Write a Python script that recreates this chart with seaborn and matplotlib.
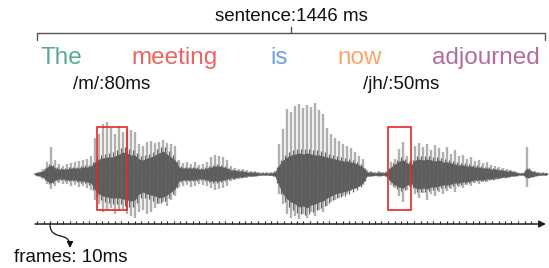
import numpy as np
import matplotlib
matplotlib.use("Agg")
import matplotlib.pyplot as plt
import matplotlib.patches as patches
from matplotlib.path import Path
import seaborn as sns

# === Data ===
sentence_ms = 1446
frame_ms = 10
words = ["The", "meeting", "is", "now", "adjourned"]
word_colors = ["#5aaa8f", "#ef6461", "#73a0e0", "#ffa468", "#b06d9e"]
word_starts_ms = [9, 270, 663, 854, 1124]          # left edge of each word label
phone_labels = ["/m/:80ms", "/jh/:50ms"]
phone_boxes_ms = [(171, 256), (999, 1064)]          # red boxes on the waveform
phone_label_ms = [102, 927]

# waveform envelope, one value per sample (amplitude in px from the centre line)
wave_start_ms = -5.7
wave_step_ms = 11.386
light_top = [1, 2, 5, 12, 27, 14, 10, 8, 10, 11, 12, 13, 14, 15, 18, 36, 40, 50, 52, 46,
             40, 48, 42, 45, 44, 42, 30, 28, 32, 33, 31, 32, 34, 31, 30, 28, 14, 11, 12, 10,
             12, 9, 10, 12, 17, 19, 18, 17, 14, 8, 6, 5, 5, 4, 3, 3, 2, 2, 2, 2,
             3, 30, 45, 65, 62, 68, 70, 66, 69, 67, 71, 64, 60, 46, 40, 36, 33, 30, 28, 26,
             22, 18, 15, 4, 3, 2, 3, 2, 3, 12, 15, 25, 32, 18, 14, 28, 31, 27, 30, 24,
             29, 26, 22, 27, 20, 24, 18, 19, 15, 17, 13, 14, 11, 12, 9, 8, 7, 6, 5, 4,
             3, 1, 1, 27, 4, 3, 2, 2, 1]
light_bottom = [1, 2, 5, 10, 15, 12, 9, 10, 10, 12, 11, 13, 12, 14, 16, 26, 30, 38, 36, 34,
                40, 37, 35, 40, 42, 44, 38, 36, 40, 38, 34, 30, 28, 32, 26, 22, 13, 12, 11, 13,
                12, 10, 11, 12, 14, 16, 15, 14, 12, 7, 6, 5, 4, 4, 3, 2, 2, 1, 1, 2,
                3, 20, 30, 40, 44, 42, 45, 40, 44, 38, 42, 36, 38, 32, 28, 26, 24, 22, 20, 17,
                15, 13, 11, 3, 2, 2, 2, 2, 3, 11, 14, 22, 28, 16, 12, 20, 24, 19, 26, 20,
                22, 18, 20, 17, 15, 18, 13, 14, 11, 12, 9, 10, 8, 8, 6, 6, 5, 4, 4, 3,
                2, 1, 1, 13, 3, 2, 2, 1, 1]
dark_top = [1, 2, 3, 7, 9, 6, 5, 5, 5, 6, 6, 6, 7, 7, 8, 12, 15, 16, 17, 17,
            18, 20, 22, 21, 19, 19, 15, 14, 16, 17, 19, 21, 23, 20, 17, 14, 7, 6, 6, 6,
            6, 5, 5, 6, 7, 8, 8, 7, 6, 4, 4, 3, 3, 2, 2, 2, 1, 1, 1, 1,
            2, 9, 14, 17, 19, 20, 21, 20, 21, 20, 19, 19, 18, 17, 16, 15, 14, 13, 13, 12,
            11, 9, 7, 2, 2, 1, 2, 1, 2, 7, 10, 13, 14, 11, 9, 14, 15, 14, 15, 14,
            13, 14, 12, 12, 11, 10, 9, 9, 8, 8, 7, 7, 6, 6, 5, 5, 4, 4, 3, 3,
            2, 1, 1, 6, 3, 2, 1, 1, 1]
dark_bottom = [1, 2, 3, 7, 9, 6, 5, 5, 6, 6, 6, 7, 7, 8, 9, 16, 20, 22, 23, 24,
               24, 24, 25, 26, 27, 26, 20, 18, 20, 21, 22, 24, 23, 21, 18, 15, 7, 6, 6, 6,
               6, 5, 5, 6, 7, 7, 7, 6, 5, 4, 4, 3, 3, 2, 2, 2, 1, 1, 1, 1,
               2, 12, 20, 25, 28, 30, 33, 32, 34, 31, 30, 28, 27, 24, 22, 20, 19, 18, 17, 15,
               14, 12, 9, 2, 2, 1, 2, 1, 2, 8, 11, 13, 14, 11, 9, 14, 15, 14, 15, 13,
               13, 12, 11, 11, 10, 9, 9, 8, 8, 7, 6, 6, 6, 5, 5, 4, 4, 3, 3, 2,
               2, 1, 1, 4, 3, 2, 1, 1, 1]

# === Style ===
sns.set_theme(style="white")
plt.rcParams["font.family"] = ["Liberation Sans", "DejaVu Sans"]

PX_MS = sentence_ms / 508.0   # ms per pixel
X0 = 37                        # pixel where the sentence starts
Y0 = 174                       # pixel row of the waveform centre


def tx(px):
    return (px - X0) * PX_MS


def ty(py):
    return Y0 - py


fig = plt.figure(figsize=(5.49, 2.68), dpi=100)
ax = fig.add_axes([0, 0, 1, 1])
ax.set_xlim(tx(0), tx(549))
ax.set_ylim(ty(268), ty(0))
ax.axis("off")

# === Waveform ===
t = wave_start_ms + wave_step_ms * np.arange(len(light_top))
lt = np.array(light_top)
lb = np.array(light_bottom)
dt = np.array(dark_top)
db = np.array(dark_bottom)

ax.vlines(t, -lb, lt, color="#b0b0b0", lw=1.7, zorder=2)
ax.fill_between(t, -db, dt, color="#5e5b5b", lw=0, zorder=3)
# darker strokes in the gaps to give the body some texture
tm = t[:-1] + wave_step_ms / 2
ax.vlines(tm, -(db[:-1] + db[1:]) * 0.62, (dt[:-1] + dt[1:]) * 0.62,
          color="#666363", lw=0.9, zorder=3)
sns.lineplot(x=t, y=np.zeros_like(t), color="#5e5b5b", lw=1, ax=ax, zorder=3)

# === Phoneme boxes ===
for (a, b) in phone_boxes_ms:
    ax.add_patch(patches.Rectangle((a, ty(210)), b - a, ty(127) - ty(210),
                                   fill=False, ec="#e8262a", lw=1.2, zorder=5))
for lab, x in zip(phone_labels, phone_label_ms):
    ax.text(x, ty(89), lab, fontsize=13.5, color="#111111", va="baseline", ha="left")

# === Words ===
for w, c, x in zip(words, word_colors, word_starts_ms):
    ax.text(x, ty(64), w, fontsize=17.5, color=c, va="baseline", ha="left")

# === Sentence bracket ===
bk = "#555555"
ax.plot([0, sentence_ms], [ty(33), ty(33)], color=bk, lw=1)
ax.plot([0, 0], [ty(33), ty(40)], color=bk, lw=1)
ax.plot([sentence_ms, sentence_ms], [ty(33), ty(40)], color=bk, lw=1)
ax.plot([sentence_ms / 2, sentence_ms / 2], [ty(33), ty(27)], color=bk, lw=1)
ax.text(sentence_ms / 2, ty(21), f"sentence:{sentence_ms} ms", fontsize=13.5,
        color="#111111", ha="center", va="baseline")

# === Frame axis ===
ay = ty(224)
ax.annotate("", xy=(tx(546), ay), xytext=(tx(35), ay),
            arrowprops=dict(arrowstyle="-|>", color="#222222", lw=1.1,
                            mutation_scale=10, shrinkA=0, shrinkB=0))
ticks = tx(37) + 6.5 * PX_MS * np.arange(77)
ax.vlines(ticks, ay, ay + 3, color="#222222", lw=0.8)

# curved pointer from one tick down to the "frames" label
curve = Path([(tx(50), ay), (tx(50), ty(242)), (tx(70), ty(230)), (tx(70), ty(248))],
             [Path.MOVETO, Path.CURVE4, Path.CURVE4, Path.CURVE4])
ax.add_patch(patches.FancyArrowPatch(path=curve, arrowstyle="-|>", mutation_scale=9,
                                     color="#111111", lw=0.9))
ax.text(tx(14), ty(262), f"frames: {frame_ms}ms", fontsize=13.5, color="#111111",
        ha="left", va="baseline")

fig.savefig("out.png", dpi=100)
